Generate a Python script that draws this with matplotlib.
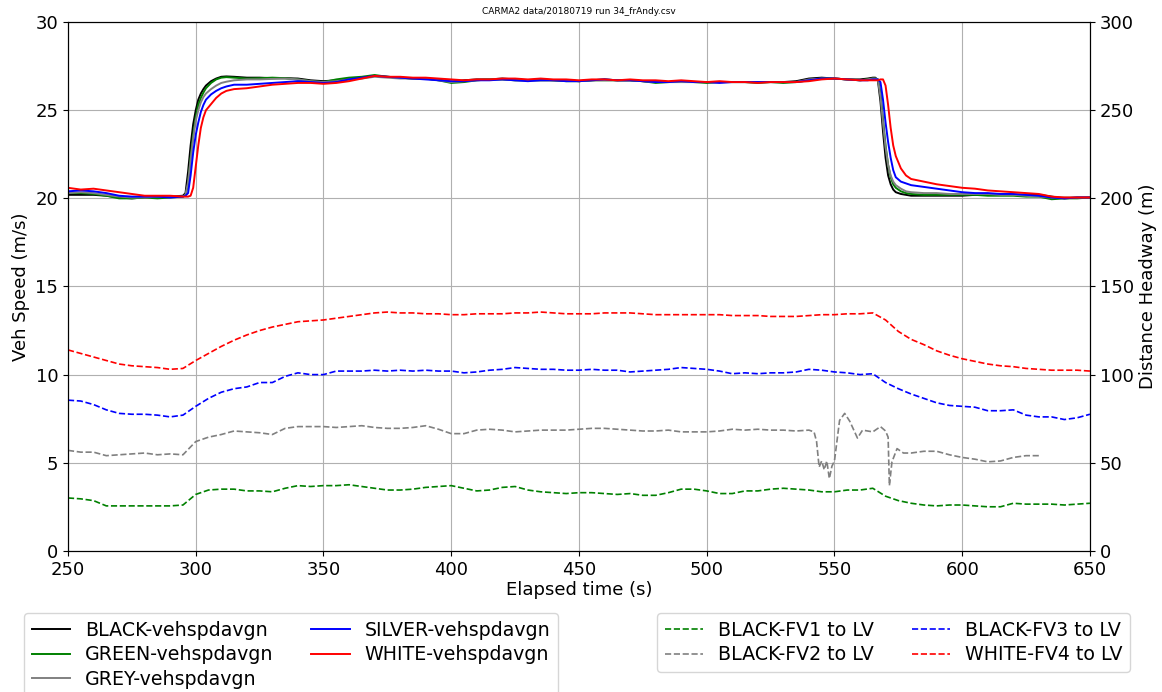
import matplotlib
matplotlib.use('Agg')
import matplotlib.pyplot as plt

# speed traces (m/s)
t_spd = [250, 255, 260, 265, 270, 275, 280, 285, 290, 295,
         296, 297, 298, 299, 300, 301, 302, 303, 304,
         306, 308, 310, 312, 315,
         320, 325, 330, 335, 340, 345, 350, 355, 360, 365, 370, 375, 380, 385, 390, 395,
         400, 405, 410, 415, 420, 425, 430, 435, 440, 445, 450, 455, 460, 465, 470, 475,
         480, 485, 490, 495, 500, 505, 510, 515, 520, 525, 530, 535, 540, 545, 550, 555, 560,
         563, 565, 566, 567, 568, 569, 570, 571, 572, 573, 574, 576, 578, 580,
         585, 590, 595, 600, 605, 610, 615, 620, 625, 630, 635, 640, 645, 650]

black_spd = [20.2, 20.2, 20.2, 20.15, 20.05, 20.0, 20.05, 20.1, 20.1, 20.15,
             20.3, 21.5, 23.0, 24.2, 25.0, 25.6, 25.95, 26.2, 26.4,
             26.65, 26.8, 26.9, 26.92, 26.9,
             26.85, 26.85, 26.82, 26.82, 26.8, 26.7, 26.65, 26.7, 26.8, 26.85, 26.95, 26.9, 26.85, 26.8, 26.8, 26.75,
             26.6, 26.7, 26.75, 26.75, 26.8, 26.75, 26.7, 26.75, 26.7, 26.7, 26.65, 26.7, 26.75, 26.7, 26.7, 26.65,
             26.6, 26.6, 26.65, 26.6, 26.6, 26.6, 26.6, 26.6, 26.6, 26.6, 26.6, 26.65, 26.8, 26.85, 26.8, 26.75, 26.75,
             26.8, 26.85, 26.85, 26.7, 25.5, 23.8, 22.3, 21.3, 20.8, 20.5, 20.35, 20.25, 20.2, 20.15,
             20.15, 20.15, 20.15, 20.15, 20.2, 20.2, 20.2, 20.2, 20.2, 20.2, 20.1, 20.0, 20.05, 20.05]

green_spd = [20.3, 20.3, 20.25, 20.15, 20.0, 20.0, 20.05, 20.0, 20.05, 20.1,
             20.2, 20.8, 22.3, 23.6, 24.6, 25.3, 25.7, 26.0, 26.25,
             26.55, 26.75, 26.85, 26.88, 26.85,
             26.8, 26.82, 26.85, 26.82, 26.75, 26.65, 26.6, 26.75, 26.85, 26.9, 27.0, 26.9, 26.85, 26.8, 26.8, 26.7,
             26.55, 26.6, 26.7, 26.75, 26.75, 26.7, 26.7, 26.7, 26.7, 26.65, 26.65, 26.7, 26.7, 26.7, 26.7, 26.65,
             26.55, 26.6, 26.6, 26.6, 26.55, 26.6, 26.6, 26.6, 26.55, 26.6, 26.55, 26.6, 26.7, 26.8, 26.8, 26.75, 26.7,
             26.75, 26.8, 26.8, 26.75, 26.0, 24.5, 23.0, 21.9, 21.2, 20.8, 20.6, 20.4, 20.3, 20.25,
             20.2, 20.2, 20.2, 20.2, 20.2, 20.15, 20.15, 20.15, 20.1, 20.1, 19.95, 20.0, 20.0, 20.05]

grey_spd = [20.3, 20.35, 20.3, 20.2, 20.1, 20.05, 20.05, 20.1, 20.1, 20.1,
            20.2, 20.9, 22.2, 23.4, 24.4, 25.0, 25.45, 25.75, 25.95,
            26.2, 26.4, 26.55, 26.62, 26.7,
            26.75, 26.75, 26.78, 26.8, 26.75, 26.65, 26.6, 26.65, 26.75, 26.8, 26.9, 26.85, 26.8, 26.8, 26.8, 26.7,
            26.6, 26.65, 26.7, 26.75, 26.75, 26.7, 26.7, 26.7, 26.7, 26.7, 26.65, 26.7, 26.7, 26.7, 26.7, 26.65,
            26.6, 26.6, 26.6, 26.6, 26.6, 26.6, 26.6, 26.6, 26.6, 26.6, 26.6, 26.6, 26.75, 26.8, 26.8, 26.75, 26.7,
            26.75, 26.8, 26.8, 26.75, 25.8, 24.3, 22.9, 21.9, 21.3, 20.95, 20.75, 20.55, 20.4, 20.35,
            20.3, 20.3, 20.25, 20.25, 20.25, 20.25, 20.2, 20.2, 20.15, 20.1, 20.05, 20.05, 20.05, 20.05]

silver_spd = [20.4, 20.45, 20.4, 20.3, 20.15, 20.1, 20.1, 20.1, 20.05, 20.1,
              20.15, 20.3, 21.3, 22.6, 23.6, 24.3, 24.9, 25.3, 25.6,
              25.9, 26.1, 26.25, 26.35, 26.45,
              26.45, 26.5, 26.55, 26.6, 26.65, 26.6, 26.55, 26.6, 26.75, 26.85, 26.95, 26.9, 26.85, 26.8, 26.75, 26.7,
              26.65, 26.65, 26.7, 26.7, 26.75, 26.7, 26.65, 26.7, 26.7, 26.65, 26.65, 26.7, 26.75, 26.7, 26.7, 26.65,
              26.6, 26.6, 26.65, 26.6, 26.6, 26.55, 26.6, 26.6, 26.6, 26.6, 26.6, 26.6, 26.7, 26.8, 26.8, 26.75, 26.7,
              26.7, 26.75, 26.75, 26.75, 26.6, 25.6, 24.3, 23.2, 22.3, 21.6, 21.2, 20.95, 20.85, 20.75,
              20.65, 20.55, 20.45, 20.35, 20.3, 20.3, 20.25, 20.25, 20.2, 20.15, 20.05, 20.0, 20.05, 20.05]

white_spd = [20.6, 20.5, 20.55, 20.45, 20.35, 20.25, 20.15, 20.15, 20.15, 20.1,
             20.1, 20.1, 20.15, 20.6, 21.8, 23.0, 24.0, 24.6, 25.0,
             25.35, 25.7, 25.95, 26.1, 26.2,
             26.25, 26.35, 26.45, 26.5, 26.55, 26.55, 26.5, 26.55, 26.65, 26.8, 26.95, 26.9, 26.9, 26.85, 26.85, 26.8,
             26.75, 26.7, 26.75, 26.75, 26.8, 26.8, 26.75, 26.8, 26.75, 26.75, 26.7, 26.75, 26.75, 26.7, 26.75, 26.7,
             26.7, 26.65, 26.7, 26.65, 26.6, 26.65, 26.6, 26.6, 26.55, 26.6, 26.6, 26.6, 26.65, 26.75, 26.8, 26.75, 26.7,
             26.7, 26.7, 26.7, 26.7, 26.75, 26.75, 26.4, 25.3, 24.0, 23.0, 22.4, 21.7, 21.3, 21.1,
             20.95, 20.8, 20.7, 20.6, 20.55, 20.45, 20.4, 20.35, 20.3, 20.25, 20.1, 20.05, 20.05, 20.05]

# distance headway (m)
t_hw = list(range(250, 651, 5))

fv1_hw = [30, 29.5, 28.5, 25.5, 25.5, 25.5, 25.5, 25.5, 25.5, 26,
          32, 34.5, 35, 35, 34, 34, 33.5, 35.5, 37, 36.5,
          37, 37, 37.5, 36.5, 35.5, 34.5, 34.5, 35, 36, 36.5,
          37, 35.5, 34, 34.5, 36, 36.5, 34.5, 33.5, 33, 32.5,
          33, 33, 32.5, 32, 32.5, 31.5, 31.5, 33, 35, 35,
          34, 32.5, 32.5, 34, 34, 35, 35.5, 35, 34.5, 33.5,
          33.5, 34.5, 34.5, 35.5, 31, 28.5, 27, 26, 25.5, 26,
          26, 25.5, 25, 25, 27, 26.5, 26.5, 26.5, 26, 26.5, 27]

fv3_hw = [85.5, 85, 83, 80, 78, 77.5, 77.5, 77, 76, 77,
          82, 86.5, 90, 92, 93, 95.5, 95.5, 99, 101, 100,
          100, 102, 102, 102, 102.5, 102, 102.5, 102, 102.5, 102,
          102, 101, 101.5, 102.5, 103, 104, 103.5, 103, 103, 102.5,
          102.5, 103, 102.5, 102.5, 101.5, 102, 102.5, 103, 104, 103.5,
          103, 102, 100.5, 101, 100.5, 101, 101, 101.5, 103, 102.5,
          101.5, 101, 100, 100.5, 95.5, 92, 89, 86.5, 84, 82.5,
          82, 81.5, 79.5, 79.5, 80, 77, 76, 76, 74.5, 75.5, 77.5]

fv4_hw = [114, 112, 110, 108, 106, 105, 104.5, 104, 103, 103.5,
          108, 112, 116, 119.5, 122.5, 125, 127, 128.5, 130, 130.5,
          131, 132, 133, 134, 135, 135.5, 135, 135, 134.5, 134.5,
          134, 134, 134.5, 134.5, 134.5, 135, 135, 135.5, 135, 134.5,
          134.5, 134.5, 135, 135, 135, 134.5, 134, 134, 134, 134,
          134, 134, 133.5, 133.5, 133.5, 133, 133, 133, 133.5, 134,
          134, 134.5, 134.5, 135, 131, 124.5, 120, 117, 113.5, 111,
          109, 107.5, 106, 105, 104.5, 103.5, 103, 102.5, 102.5, 102.5, 102]

t_fv2 = list(range(250, 541, 5)) + [542, 543, 544, 545, 546, 547, 548, 549, 550, 552, 554, 556,
                                     559, 561, 563, 565, 568, 570, 571, 571.5, 572.5, 574.5, 577,
                                     580, 585, 590, 595, 600, 605, 610, 615, 620, 625, 630]
fv2_hw = [57, 56, 56, 54, 54.5, 55, 55.5, 54.5, 55, 54.5,
          62, 64.5, 66, 68, 67.5, 67, 66, 69.5, 70.5, 70.5,
          70.5, 70, 70.5, 71, 70, 69.5, 69.5, 70, 71, 69,
          66.5, 66.5, 68.5, 69, 68.5, 67.5, 68, 68.5, 68.5, 68.5,
          69, 69.5, 69.5, 69, 68.5, 68, 68, 68.5, 67.5, 67.5,
          67.5, 68, 69, 68.5, 69, 68.5, 68.5, 68, 68.5,
          67.5, 62, 47.5, 51, 46, 51, 41, 48, 51, 74, 78, 73.5,
          64, 68.5, 68, 67.5, 70.5, 68, 64.5, 37, 50.5, 58, 55.5,
          55.5, 56.5, 56.5, 54.5, 53, 52, 50.5, 51, 53, 54, 54]

fig = plt.figure(figsize=(11.62, 6.92), dpi=100)
ax = fig.add_axes([0.0585, 0.204, 0.8795, 0.764])
ax2 = ax.twinx()

l1, = ax.plot(t_spd, black_spd, color='k', lw=1.4, label='BLACK-vehspdavgn')
l2, = ax.plot(t_spd, green_spd, color='g', lw=1.4, label='GREEN-vehspdavgn')
l3, = ax.plot(t_spd, grey_spd, color='grey', lw=1.4, label='GREY-vehspdavgn')
l4, = ax.plot(t_spd, silver_spd, color='b', lw=1.4, label='SILVER-vehspdavgn')
l5, = ax.plot(t_spd, white_spd, color='r', lw=1.4, label='WHITE-vehspdavgn')

d1, = ax2.plot(t_hw, fv1_hw, color='g', ls='--', lw=1.2, label='BLACK-FV1 to LV')
d2, = ax2.plot(t_fv2, fv2_hw, color='grey', ls='--', lw=1.2, label='BLACK-FV2 to LV')
d3, = ax2.plot(t_hw, fv3_hw, color='b', ls='--', lw=1.2, label='BLACK-FV3 to LV')
d4, = ax2.plot(t_hw, fv4_hw, color='r', ls='--', lw=1.2, label='WHITE-FV4 to LV')

ax.set_xlim(250, 650)
ax.set_ylim(0, 30)
ax2.set_ylim(0, 300)
ax.grid(True, color='#b0b0b0', lw=0.8)
ax.tick_params(labelsize=13)
ax2.tick_params(labelsize=13)
ax.set_xlabel('Elapsed time (s)', fontsize=13, labelpad=2)
ax.set_ylabel('Veh Speed (m/s)', fontsize=13)
ax2.set_ylabel('Distance Headway (m)', fontsize=13)
ax.set_title('CARMA2 data/20180719 run 34_frAndy.csv', fontsize=6.5)

fig.legend(handles=[l1, l2, l3, l4, l5], loc='upper left', bbox_to_anchor=(0.0207, 0.1142),
           ncol=2, fontsize=13.7, borderaxespad=0, labelspacing=0.3)
fig.legend(handles=[d1, d2, d3, d4], loc='upper left', bbox_to_anchor=(0.5654, 0.1142),
           ncol=2, fontsize=13.7, borderaxespad=0, labelspacing=0.3)

fig.savefig('out.png', dpi=100)
